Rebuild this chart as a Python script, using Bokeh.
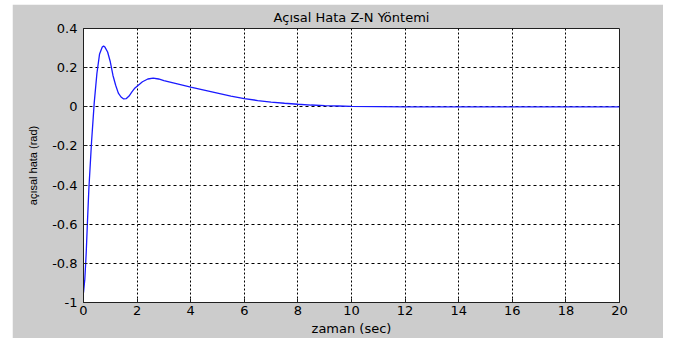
from bokeh.plotting import figure
from bokeh.models import FixedTicker, CustomJSTickFormatter, Range1d
from bokeh.embed import file_html
from bokeh.resources import INLINE

# ---- data ----
t_sec = [0, 0.05, 0.1, 0.15, 0.2, 0.3, 0.4, 0.5, 0.6, 0.7, 0.75, 0.8, 0.9, 1.0,
         1.1, 1.2, 1.3, 1.4, 1.5, 1.6, 1.7, 1.8, 1.9, 2.0, 2.2, 2.4, 2.6, 2.8,
         3.0, 3.5, 4.0, 4.5, 5.0, 5.5, 6.0, 6.5, 7.0, 7.5, 8.0, 8.5, 9.0, 9.5,
         10.0, 12, 14, 16, 18, 20]
hata_rad = [-0.95, -0.88, -0.75, -0.58, -0.42, -0.18, 0.02, 0.17, 0.27, 0.305, 0.31,
            0.305, 0.28, 0.23, 0.16, 0.11, 0.07, 0.05, 0.04, 0.042, 0.055, 0.075,
            0.093, 0.105, 0.128, 0.142, 0.147, 0.142, 0.134, 0.117, 0.100, 0.085,
            0.070, 0.055, 0.042, 0.032, 0.024, 0.018, 0.013, 0.009, 0.006, 0.004,
            0.002, 0.0, 0.0, 0.0, 0.0, 0.0]
x_ticks = [0, 2, 4, 6, 8, 10, 12, 14, 16, 18, 20]
y_ticks = [-1, -0.8, -0.6, -0.4, -0.2, 0, 0.2, 0.4]

FONT_H = "DejaVu Sans"
FONT_V = "Liberation Sans"
GRAY = "#cccccc"

p = figure(width=651, height=334, output_backend="svg", toolbar_location=None,
           x_range=Range1d(0, 20), y_range=Range1d(-1, 0.4),
           title="Açısal Hata Z-N Yöntemi",
           min_border_left=71, min_border_right=44, min_border_top=23, min_border_bottom=30)
p.margin = (4, 0, 0, 12)
p.border_fill_color = GRAY
p.background_fill_color = "white"
p.outline_line_color = "#202020"
p.outline_line_width = 1

p.title.text_font = FONT_H
p.title.text_font_size = "13px"
p.title.text_font_style = "normal"
p.title.align = "center"
p.title.text_color = "#000000"
p.title.standoff = 7
p.title.offset = 0

fmt = CustomJSTickFormatter(code="var s = tick.toFixed(1); if (s.endsWith('.0')) s = s.slice(0, -2); if (s == '-0') s = '0'; return s;")

for ax in (p.xaxis[0], p.yaxis[0]):
    ax.major_label_text_font = FONT_H
    ax.major_label_text_font_size = "13px"
    ax.major_label_text_color = "#000000"
    ax.axis_label_text_font_style = "normal"
    ax.axis_label_text_color = "#000000"
    ax.major_tick_in = 4
    ax.major_tick_out = 0
    ax.minor_tick_in = 0
    ax.minor_tick_out = 0
    ax.axis_line_color = "#202020"
    ax.major_tick_line_color = "#202020"

p.xaxis.axis_label_text_font = FONT_H
p.xaxis.axis_label_text_font_size = "13px"
p.yaxis.axis_label_text_font = FONT_V
p.yaxis.axis_label_text_font_size = "11px"

p.xaxis.ticker = FixedTicker(ticks=x_ticks)
p.yaxis.ticker = FixedTicker(ticks=y_ticks)
p.xaxis.formatter = fmt
p.yaxis.formatter = fmt
p.xaxis.axis_label = "zaman (sec)"
p.yaxis.axis_label = "açısal hata (rad)"
p.xaxis.major_label_standoff = 3
p.xaxis.axis_label_standoff = 3
p.yaxis.major_label_standoff = 6
p.yaxis.axis_label_standoff = 10

p.xgrid.ticker = FixedTicker(ticks=x_ticks)
p.ygrid.ticker = FixedTicker(ticks=y_ticks)
p.xgrid.grid_line_color = "#000000"
p.xgrid.grid_line_dash = "2 2"
p.xgrid.grid_line_width = 1
p.ygrid.grid_line_color = "#000000"
p.ygrid.grid_line_dash = "3 3"
p.ygrid.grid_line_width = 1

p.line(t_sec, hata_rad, line_color="#1a1aff", line_width=1.3)

open("out.html", "w").write(file_html(p, INLINE))
